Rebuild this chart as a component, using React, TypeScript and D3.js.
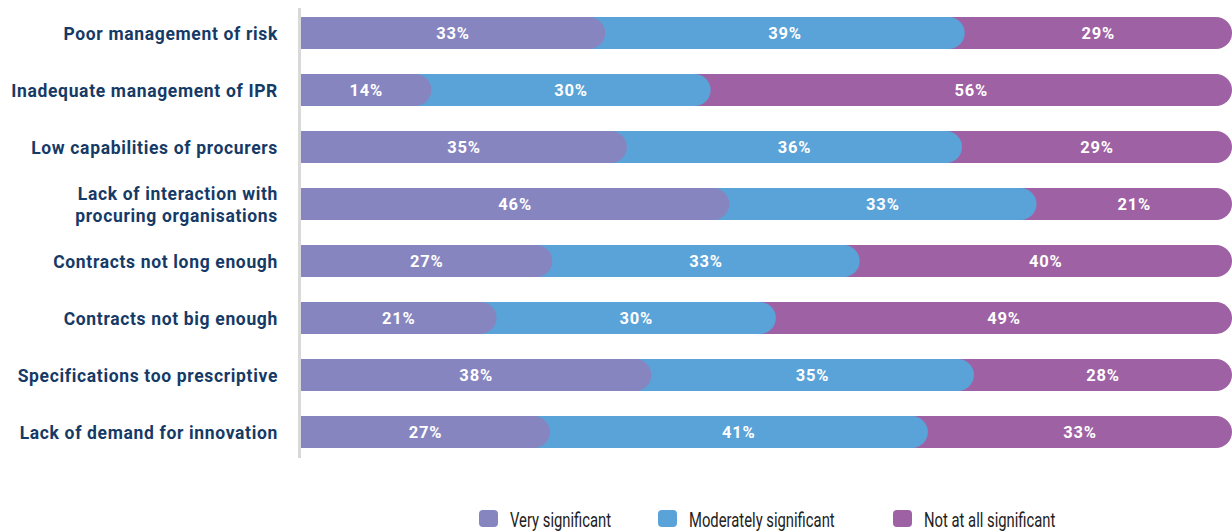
import React from "react";
import * as d3 from "d3";

const categories: string[][] = [
  ["Poor management of risk"],
  ["Inadequate management of IPR"],
  ["Low capabilities of procurers"],
  ["Lack of interaction with", "procuring organisations"],
  ["Contracts not long enough"],
  ["Contracts not big enough"],
  ["Specifications too prescriptive"],
  ["Lack of demand for innovation"],
];
const verySignificant = [33, 14, 35, 46, 27, 21, 38, 27];
const moderatelySignificant = [39, 30, 36, 33, 33, 30, 35, 41];
const notAtAllSignificant = [29, 56, 29, 21, 40, 49, 28, 33];
const seriesNames = ["Very significant", "Moderately significant", "Not at all significant"];
const seriesColors = ["#8785c0", "#5aa3d8", "#9e62a4"];

const W = 1232;
const H = 531;

function roundRightRect(x0: number, x1: number, y: number, h: number, r: number) {
  const p = d3.path();
  p.moveTo(x0, y);
  p.lineTo(x1 - r, y);
  p.arc(x1 - r, y + r, r, -Math.PI / 2, Math.PI / 2);
  p.lineTo(x0, y + h);
  p.closePath();
  return p.toString();
}

export default function App() {
  const keys = categories.map((c) => c.join(" "));
  const y = d3
    .scaleBand<string>()
    .domain(keys)
    .range([4.5, 460.5])
    .paddingInner(0.44)
    .paddingOuter(0.22);
  const x = d3.scaleLinear().domain([0, 1]).range([301, 1232]);
  const bh = y.bandwidth();
  const r = bh / 2;

  const rows = keys.map((k, i) => {
    const vals = [verySignificant[i], moderatelySignificant[i], notAtAllSignificant[i]];
    const total = d3.sum(vals);
    let cum = 0;
    const segs = vals.map((v, j) => {
      const s = cum;
      cum += v;
      return { v, j, s: s / total, e: cum / total };
    });
    return { k, i, segs };
  });

  const legendX = [479, 658, 893];

  return (
    <svg
      width={W}
      height={H}
      style={{ position: "absolute", left: 0, top: 0, background: "#fff" }}
    >
      <line x1={299.5} x2={299.5} y1={8} y2={458} stroke="#d9d9d9" strokeWidth={3} />
      {rows.map((row) => {
        const y0 = y(row.k)!;
        const cy = y0 + bh / 2;
        const lines = categories[row.i];
        return (
          <g key={row.k}>
            {[...row.segs].reverse().map((s) => (
              <path
                key={s.j}
                d={roundRightRect(x(0), x(s.e), y0, bh, r)}
                fill={seriesColors[s.j]}
              />
            ))}
            {row.segs.map((s) => (
              <text
                key={"t" + s.j}
                x={(x(s.s) + x(s.e)) / 2}
                y={cy + 6.3}
                textAnchor="middle"
                fill="#fff"
                fontFamily="Roboto, 'DejaVu Sans', sans-serif"
                fontWeight={700}
                fontSize={16.5}
                letterSpacing={0.8}
              >
                {s.v}%
              </text>
            ))}
            {lines.map((l, li) => (
              <text
                key={"c" + li}
                x={278}
                y={cy + 6.5 + (li - (lines.length - 1) / 2) * 22}
                textAnchor="end"
                fill="#163a66"
                fontFamily="Roboto, 'DejaVu Sans', sans-serif"
                fontWeight={700}
                fontSize={17.5}
                letterSpacing={0.66}
              >
                {l}
              </text>
            ))}
          </g>
        );
      })}
      {seriesNames.map((n, j) => (
        <g key={n}>
          <rect x={legendX[j]} y={510} width={19} height={17} rx={4} fill={seriesColors[j]} />
          <g transform={`translate(${legendX[j] + 31},527) scale(0.76,1)`}>
            <text
              x={0}
              y={0}
              fill="#222"
              fontFamily="Roboto, 'DejaVu Sans', sans-serif"
              fontSize={19.5}
            >
              {n}
            </text>
          </g>
        </g>
      ))}
    </svg>
  );
}
